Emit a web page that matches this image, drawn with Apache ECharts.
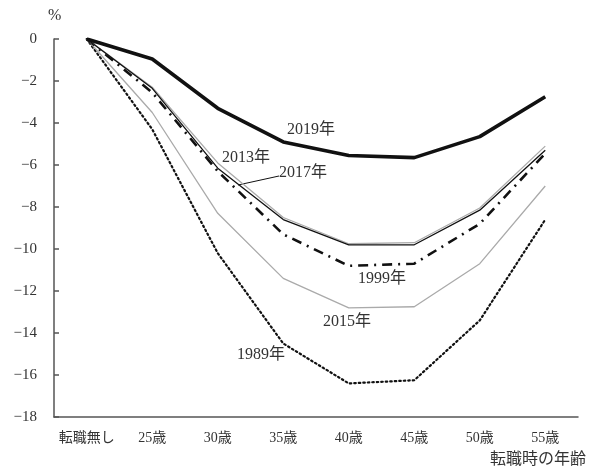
<!DOCTYPE html>
<html><head><meta charset="utf-8">
<script src="https://cdn.jsdelivr.net/npm/echarts@6/dist/echarts.min.js"></script>
<style>html,body{margin:0;padding:0;background:#fff}#c{width:592px;height:467px}</style>
</head><body><div id="c"></div>
<script>
const categories = ['転職無し','25歳','30歳','35歳','40歳','45歳','50歳','55歳'];
const yTicks = [0,-2,-4,-6,-8,-10,-12,-14,-16,-18];
const s2019 = [0,-0.95,-3.3,-4.9,-5.55,-5.65,-4.65,-2.75];
const s2017 = [0,-2.35,-6.15,-8.6,-9.8,-9.8,-8.15,-5.3];
const s2013 = [0,-2.3,-5.9,-8.5,-9.75,-9.7,-8.05,-5.1];
const s1999 = [0,-2.55,-6.3,-9.3,-10.8,-10.7,-8.8,-5.45];
const s2015 = [0,-3.5,-8.3,-11.4,-12.8,-12.75,-10.7,-7.0];
const s1989 = [0,-4.3,-10.2,-14.5,-16.4,-16.25,-13.4,-8.6];

const FF = '"Liberation Serif", "DejaVu Serif", "Noto Sans CJK JP", serif';
const chart = echarts.init(document.getElementById('c'));
const txt = (x,y,t,opt) => Object.assign({type:'text', x, y, style:{text:t, fill:'#333', font:'16px '+FF, textVerticalAlign:'middle'}}, opt||{});
chart.setOption({
  animation:false,
  grid:{left:54,right:14,top:39,bottom:50},
  xAxis:{type:'category',data:categories,boundaryGap:true,
    axisLine:{onZero:false,lineStyle:{color:'#555',width:1.5}},
    axisTick:{inside:true,length:5,lineStyle:{color:'#555',width:1.5}},
    axisLabel:{color:'#333',fontFamily:FF,fontSize:14,margin:14,interval:0}},
  yAxis:{type:'value',min:-18,max:0,interval:2,
    splitLine:{show:false},
    axisLine:{show:true,lineStyle:{color:'#555',width:1.5}},
    axisTick:{show:true,inside:true,length:5,lineStyle:{color:'#555',width:1.5}},
    axisLabel:{color:'#333',fontFamily:FF,fontSize:15,margin:17,
      formatter:v=>String(v).replace('-','−')}},
  series:[
    {name:'1989年',type:'line',data:s1989,symbol:'none',lineStyle:{color:'#111',width:2.2,type:[1.5,3],cap:'round'}},
    {name:'2015年',type:'line',data:s2015,symbol:'none',lineStyle:{color:'#aaa',width:1.3}},
    {name:'1999年',type:'line',data:s1999,symbol:'none',lineStyle:{color:'#111',width:2.6,type:[10,6,2,6]}},
    {name:'2013年',type:'line',data:s2013,symbol:'none',lineStyle:{color:'#aaa',width:1.3}},
    {name:'2017年',type:'line',data:s2017,symbol:'none',lineStyle:{color:'#111',width:1.3}},
    {name:'2019年',type:'line',data:s2019,symbol:'none',lineStyle:{color:'#111',width:3.6}}
  ],
  graphic:[
    txt(48,16,'%'),
    txt(490,460,'転職時の年齢'),
    txt(287,130,'2019年'),
    txt(222,158,'2013年'),
    txt(279,173,'2017年'),
    {type:'line',shape:{x1:238,y1:185,x2:279,y2:176},style:{stroke:'#111',lineWidth:1}},
    txt(358,279,'1999年'),
    txt(323,322,'2015年'),
    txt(237,355,'1989年')
  ]
});
</script></body></html>
